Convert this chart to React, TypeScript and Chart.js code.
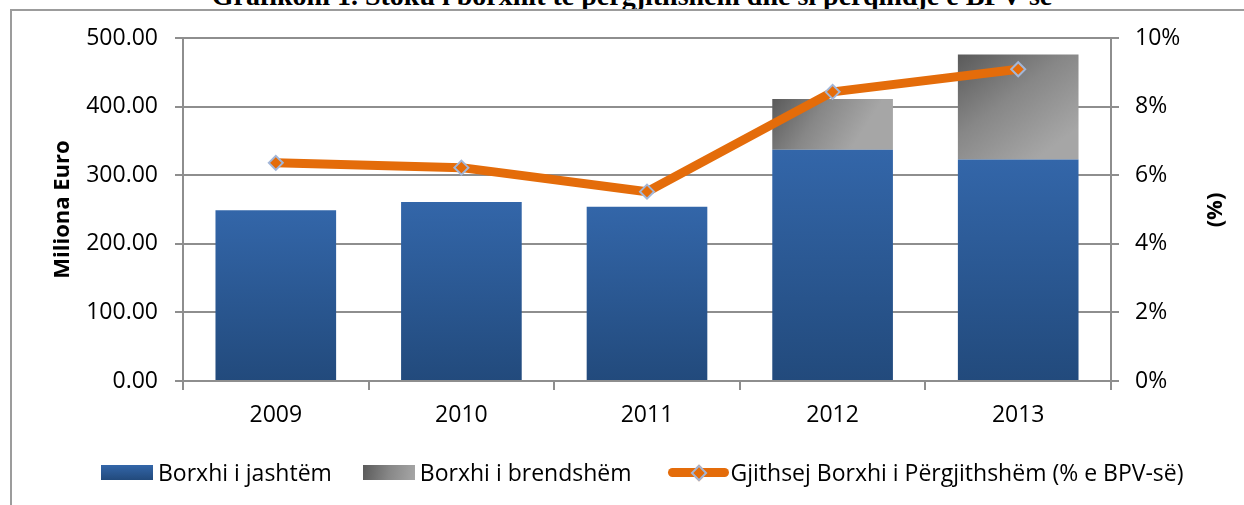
import React, { useEffect, useRef } from "react";
import { Chart, registerables } from "chart.js";

Chart.register(...registerables);

const categories = ["2009", "2010", "2011", "2012", "2013"];
const externalDebt = [249, 261, 254, 337, 323];
const domesticDebt = [0, 0, 0, 74, 153];
const debtPctGdp = [6.36, 6.22, 5.52, 8.43, 9.09];

const leftTicksMax = 500;
const rightTicksMax = 10;

const titleText = "Grafikoni 1. Stoku i borxhit të përgjithshëm dhe si përqindje e BPV-së";
const seriesNames = ["Borxhi i jashtëm", "Borxhi i brendshëm", "Gjithsej Borxhi i Përgjithshëm (% e BPV-së)"];

const FONT = "'Open Sans', 'Liberation Sans', sans-serif";
const GRID = "#8e8e8e";
const ORANGE = "#e46c0a";
const BAR_PCT = 0.65;

export default function App() {
  const ref = useRef<HTMLCanvasElement | null>(null);

  useEffect(() => {
    const canvas = ref.current;
    if (!canvas) return;

    const blueFill = (ctx: any) => {
      const chart = ctx.chart;
      if (!chart.chartArea || ctx.type !== "data") return "#2c5b97";
      const ys = chart.scales.y;
      const yTop = ys.getPixelForValue(ctx.raw);
      const yBot = ys.getPixelForValue(0);
      const g = chart.ctx.createLinearGradient(0, yTop, 0, yBot);
      g.addColorStop(0, "#3366a9");
      g.addColorStop(1, "#224a7c");
      return g;
    };

    const grayFill = (ctx: any) => {
      const chart = ctx.chart;
      if (!chart.chartArea || ctx.type !== "data") return "#8a8a8a";
      const i = ctx.dataIndex;
      const ys = chart.scales.y;
      const xs = chart.scales.x;
      const base = externalDebt[i];
      const yTop = ys.getPixelForValue(base + domesticDebt[i]);
      const yBot = ys.getPixelForValue(base);
      const xc = xs.getPixelForValue(i);
      const hw = (chart.chartArea.width / categories.length) * BAR_PCT / 2;
      const g = chart.ctx.createLinearGradient(xc - hw, yTop, xc + hw * 0.3, yBot);
      g.addColorStop(0, "#5a5a5a");
      g.addColorStop(0.5, "#878787");
      g.addColorStop(1, "#a6a6a6");
      return g;
    };

    const tickFont = { family: FONT, size: 23 };

    const chart = new Chart(canvas, {
      data: {
        labels: categories,
        datasets: [
          {
            type: "line",
            label: seriesNames[2],
            data: debtPctGdp,
            yAxisID: "y1",
            order: 0,
            borderColor: ORANGE,
            borderWidth: 9,
            borderCapStyle: "round",
            borderJoinStyle: "round",
            pointStyle: "rectRot",
            pointRadius: 7,
            pointBackgroundColor: ORANGE,
            pointBorderColor: "#a2b6d8",
            pointBorderWidth: 2,
            tension: 0,
          } as any,
          {
            type: "bar",
            label: seriesNames[0],
            data: externalDebt,
            yAxisID: "y",
            order: 1,
            stack: "debt",
            backgroundColor: blueFill,
            barPercentage: BAR_PCT,
            categoryPercentage: 1,
          } as any,
          {
            type: "bar",
            label: seriesNames[1],
            data: domesticDebt,
            yAxisID: "y",
            order: 1,
            stack: "debt",
            backgroundColor: grayFill,
            barPercentage: BAR_PCT,
            categoryPercentage: 1,
          } as any,
        ],
      },
      options: {
        responsive: false,
        maintainAspectRatio: false,
        animation: false,
        layout: { padding: { top: 38, left: 0, right: 0, bottom: 0 } },
        plugins: { legend: { display: false }, tooltip: { enabled: false } },
        scales: {
          x: {
            stacked: true,
            grid: { offset: true, drawOnChartArea: false, tickLength: 9, color: GRID, lineWidth: 2 },
            border: { color: GRID, width: 2 },
            ticks: { font: tickFont, color: "#000", padding: 12, maxRotation: 0 },
            afterFit: (s: any) => { s.height = 124; },
          },
          y: {
            stacked: true,
            position: "left",
            min: 0,
            max: leftTicksMax,
            ticks: {
              stepSize: 100,
              font: tickFont,
              color: "#000",
              padding: 17,
              callback: (v: any) => Number(v).toFixed(2),
            },
            grid: { color: GRID, lineWidth: 2, tickLength: 8 },
            border: { color: GRID, width: 2 },
            title: {
              display: true,
              text: "Miliona Euro",
              color: "#000",
              font: { family: FONT, size: 22, weight: "bold" },
              padding: { top: 50, bottom: 0 },
            },
            afterFit: (s: any) => { s.width = 183; },
          },
          y1: {
            position: "right",
            min: 0,
            max: rightTicksMax,
            ticks: {
              stepSize: 2,
              font: tickFont,
              color: "#000",
              padding: 16,
              callback: (v: any) => `${v}%`,
            },
            grid: { drawOnChartArea: false, color: GRID, lineWidth: 2, tickLength: 8 },
            border: { color: GRID, width: 2 },
            afterFit: (s: any) => { s.width = 133; },
          },
        },
      } as any,
    });

    return () => chart.destroy();
  }, []);

  const legendText: React.CSSProperties = {
    fontFamily: FONT,
    fontSize: 23,
    color: "#000",
    whiteSpace: "nowrap",
    lineHeight: "28px",
  };

  return (
    <div
      style={{
        position: "absolute",
        left: 0,
        top: 0,
        width: 1244,
        height: 505,
        overflow: "hidden",
        background: "#fff",
      }}
    >
      <div
        style={{
          position: "absolute",
          left: 0,
          width: 1264,
          top: -18,
          textAlign: "center",
          fontFamily: "'Liberation Serif', serif",
          fontWeight: "bold",
          fontSize: 28,
          lineHeight: "28px",
          whiteSpace: "nowrap",
          color: "#000",
        }}
      >
        {titleText}
      </div>
      <div
        style={{
          position: "absolute",
          left: 10,
          top: 9,
          right: -5,
          bottom: -5,
          borderLeft: "2px solid #9c9c9c",
          borderTop: "2px solid #9c9c9c",
        }}
      />
      <canvas ref={ref} width={1244} height={505} style={{ position: "absolute", left: 0, top: 0, display: "block" }} />
      <div
        style={{
          position: "absolute",
          left: 1213 - 20,
          top: 210 - 15,
          width: 40,
          height: 30,
          display: "flex",
          alignItems: "center",
          justifyContent: "center",
          transform: "rotate(-90deg)",
          fontFamily: FONT,
          fontWeight: "bold",
          fontSize: 22,
          color: "#000",
        }}
      >
        (%)
      </div>
      <div
        style={{
          position: "absolute",
          left: 101,
          top: 458,
          display: "flex",
          alignItems: "center",
          height: 28,
        }}
      >
        <div style={{ width: 52, height: 15, background: "linear-gradient(#3366a9, #224a7c)" }} />
        <span style={{ ...legendText, marginLeft: 5 }}>{seriesNames[0]}</span>
        <div
          style={{
            width: 52,
            height: 15,
            marginLeft: 31,
            background: "linear-gradient(100deg, #5a5a5a, #878787 50%, #a6a6a6)",
          }}
        />
        <span style={{ ...legendText, marginLeft: 5 }}>{seriesNames[1]}</span>
        <div style={{ position: "relative", width: 61, height: 9, marginLeft: 36, background: ORANGE, borderRadius: 5 }}>
          <div
            style={{
              position: "absolute",
              left: 25,
              top: -1,
              width: 8,
              height: 8,
              background: ORANGE,
              border: "2px solid #a2b6d8",
              transform: "rotate(45deg)",
            }}
          />
        </div>
        <span style={{ ...legendText, marginLeft: 2 }}>{seriesNames[2]}</span>
      </div>
    </div>
  );
}
